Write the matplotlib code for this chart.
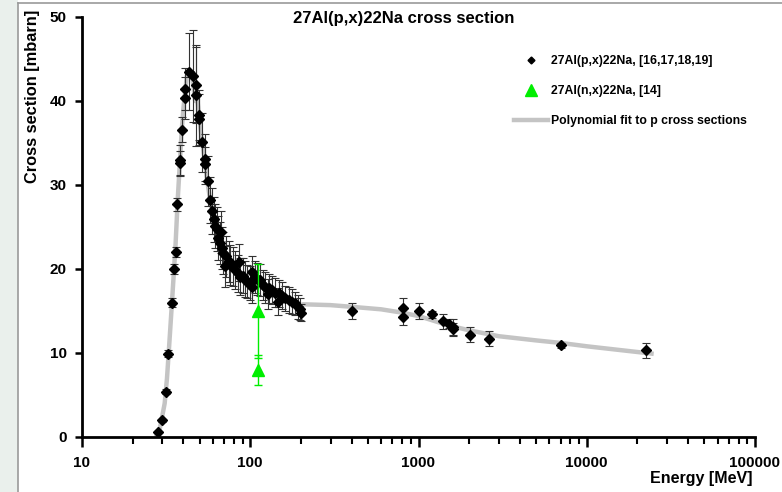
import matplotlib.pyplot as plt
from matplotlib.lines import Line2D
from matplotlib.patches import Rectangle
from matplotlib.ticker import LogLocator, FixedLocator, NullFormatter

plt.rcParams['font.family'] = ['Liberation Sans', 'DejaVu Sans']
plt.rcParams['font.weight'] = 'bold'

# proton induced data [MeV, mbarn, error]
p_energy = [28.3, 29.9, 31.6, 32.5, 34.3, 35.4, 36.0, 36.7, 38.2, 38.4,
            39.3, 40.9, 41.2, 43.4, 45.8, 47.7, 47.8, 49.7, 49.9, 51.8,
            54.0, 54.2, 55.8, 58.0, 59.4, 60.8, 62.1, 63.4, 64.7, 66.0,
            66.9, 67.5, 69.3, 70.7, 71.6, 74.3, 76.0, 78.9, 81.4, 84.0,
            86.0, 87.1, 90.5, 93.3, 95.5, 99.0, 102.3, 102.5, 107.0, 109.6,
            114.8, 119.0, 122.8, 126.8, 128.5, 134.6, 140.9, 145.5, 147.5, 154.5,
            161.5, 169.0, 177.0, 185.4, 191.4, 196.5, 200.4,
            403, 807, 808, 1004, 1211, 1403, 1510, 1600, 1607, 2019, 2620,
            7000, 22450]
p_sigma = [0.6, 2.0, 5.4, 9.9, 16.0, 20.0, 22.0, 27.7, 32.6, 33.0,
           36.6, 40.3, 41.4, 43.5, 43.0, 41.9, 40.7, 38.3, 37.8, 35.1,
           33.1, 32.5, 30.5, 28.2, 26.9, 25.9, 25.1, 24.8, 23.7, 23.1,
           24.4, 22.5, 21.9, 20.3, 21.5, 20.9, 20.5, 20.3, 19.9, 19.5,
           20.8, 19.1, 19.2, 18.8, 18.5, 18.3, 19.6, 17.9, 19.0, 18.8,
           18.7, 18.1, 17.8, 17.0, 17.7, 17.5, 17.2, 16.1, 17.1, 16.8,
           16.5, 16.3, 16.1, 15.9, 15.5, 15.2, 14.8,
           15.0, 15.4, 14.3, 15.0, 14.6, 13.8, 13.5, 13.1, 12.8, 12.2, 11.7,
           10.9, 10.3]
p_err = [0.1, 0.2, 0.3, 0.4, 0.5, 0.6, 0.6, 0.8, 1.5, 1.8,
         1.5, 2.5, 2.5, 4.6, 5.5, 4.5, 6.0, 3.0, 3.0, 3.5,
         3.0, 2.0, 3.0, 2.7, 2.7, 2.7, 2.6, 2.6, 2.6, 2.5,
         2.5, 2.5, 2.5, 2.4, 2.4, 2.4, 2.4, 2.3, 2.3, 2.2,
         2.2, 2.2, 2.1, 2.1, 2.0, 2.0, 2.0, 2.0, 1.9, 1.9,
         1.9, 1.8, 1.8, 1.8, 1.7, 1.7, 1.7, 1.6, 1.6, 1.6,
         1.5, 1.5, 1.5, 1.4, 1.4, 1.3, 1.0,
         1.0, 1.2, 1.0, 1.0, 0.4, 0.9, 0.5, 0.9, 0.8, 0.9, 0.9,
         0.3, 0.9]

# neutron induced data
n_energy = [111, 111]
n_sigma = [15.0, 8.0]
n_err = [5.6, 1.8]

# polynomial fit to the proton data
fit_energy = [27.5, 29, 30, 31, 32, 33, 34, 35, 36, 37, 38, 39, 40, 41,
              42, 43.5, 45.5, 47, 48, 49.5, 51.5, 54, 56, 58, 60, 62, 65,
              70, 75, 80, 90, 100, 120, 140, 160, 180, 198, 205, 300, 400,
              600, 800, 1000, 1500, 2000, 3000, 5000, 7000, 10000, 15000, 25000]
fit_sigma = [0.0, 1.0, 2.5, 4.0, 7.0, 11.0, 15.0, 19.0, 23.0, 28.0, 32.0,
             36.0, 39.0, 41.0, 43.0, 43.5, 42.5, 40.0, 41.0, 38.5, 35.5,
             32.5, 30.0, 28.0, 26.5, 25.2, 24.0, 22.0, 20.8, 20.0, 19.0,
             18.3, 17.8, 17.0, 16.5, 16.0, 15.0, 15.8, 15.7, 15.5, 15.2,
             14.8, 14.4, 13.3, 12.7, 12.0, 11.5, 11.2, 10.8, 10.4, 9.9]

fig = plt.figure(figsize=(7.82, 4.92), dpi=100)
fig.patches.append(Rectangle((0, 0), 18 / 782, 1, transform=fig.transFigure,
                             facecolor='#eaf0ec', edgecolor='none', zorder=-1))
fig.add_artist(Line2D([18 / 782, 18 / 782], [0, 1 - 3 / 492], color='#9a9a9a', lw=1.2))
fig.add_artist(Line2D([18 / 782, 1], [1 - 3 / 492, 1 - 3 / 492], color='#9a9a9a', lw=1.2))

ax = fig.add_axes([82 / 782, 1 - 437 / 492, 673 / 782, 420 / 492])

ax.plot(fit_energy, fit_sigma, color='#c4c4c4', lw=3.2, zorder=1,
        solid_capstyle='butt')
ax.errorbar(p_energy, p_sigma, yerr=p_err, fmt='D', color='black', ms=4.6,
            ecolor='#333333', elinewidth=0.8, capsize=3, capthick=0.8, zorder=3)
ax.errorbar(n_energy, n_sigma, yerr=n_err, fmt='^', color='#00ee00', ms=8,
            ecolor='#00ee00', elinewidth=1.0, capsize=3, capthick=1.0, zorder=4)

ax.set_xscale('log')
ax.set_xlim(10, 100000)
ax.set_ylim(0, 50)
ax.xaxis.set_major_locator(FixedLocator([10, 100, 1000, 10000, 100000]))
ax.xaxis.set_minor_locator(LogLocator(base=10, subs=range(2, 10)))
ax.xaxis.set_minor_formatter(NullFormatter())
ax.set_xticklabels(['10', '100', '1000', '10000', '100000'])
ax.set_yticks([0, 10, 20, 30, 40, 50])

for side in ['top', 'right']:
    ax.spines[side].set_visible(False)
for side in ['left', 'bottom']:
    ax.spines[side].set_linewidth(2.0)
ax.tick_params(axis='x', which='major', direction='out', length=7, width=1.8,
               labelsize=11, pad=7)
ax.tick_params(axis='x', which='minor', direction='out', length=5, width=1.5)
ax.tick_params(axis='y', which='major', direction='out', length=5, width=1.8,
               labelsize=11, pad=6)

fig.text(404 / 782, 1 - 19 / 492, '27Al(p,x)22Na cross section',
         ha='center', va='center', fontsize=12, fontweight='bold')
fig.text(33 / 782, 1 - 10 / 492, 'Cross section [mbarn]', rotation=90,
         ha='center', va='top', fontsize=11.8, fontweight='bold')
fig.text(752 / 782, 1 - 479 / 492, 'Energy [MeV]', ha='right', va='center',
         fontsize=11.5, fontweight='bold')

handles = [Line2D([], [], ls='none', marker='D', color='black', ms=3.5),
           Line2D([], [], ls='none', marker='^', color='#00ee00', ms=8),
           Line2D([], [], color='#c4c4c4', lw=3.2)]
labels = ['27Al(p,x)22Na, [16,17,18,19]', '27Al(n,x)22Na, [14]',
          'Polynomial fit to p cross sections']
ax.legend(handles, labels, loc='upper left', bbox_to_anchor=(0.635, 0.92),
          frameon=False, fontsize=8.8, handlelength=2.8, handletextpad=0.2,
          labelspacing=1.45, borderaxespad=0)

fig.savefig('out.png', dpi=100)
